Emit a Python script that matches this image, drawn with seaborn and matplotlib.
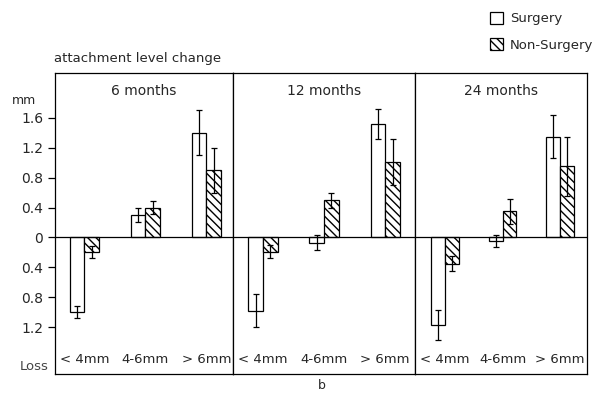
import matplotlib

matplotlib.use("Agg")
import matplotlib.pyplot as plt
from matplotlib.patches import Patch
from matplotlib.ticker import FuncFormatter
import numpy as np
import pandas as pd
import seaborn as sns

categories = ["< 4mm", "4-6mm", "> 6mm"]
periods = ["6 months", "12 months", "24 months"]
groups = ["Surgery", "Non-Surgery"]

surgery_6 = [-1.00, 0.30, 1.40]
surgery_6_err = [0.08, 0.09, 0.30]
nonsurgery_6 = [-0.20, 0.40, 0.90]
nonsurgery_6_err = [0.08, 0.09, 0.30]

surgery_12 = [-0.98, -0.07, 1.52]
surgery_12_err = [0.22, 0.10, 0.20]
nonsurgery_12 = [-0.19, 0.50, 1.01]
nonsurgery_12_err = [0.09, 0.10, 0.31]

surgery_24 = [-1.17, -0.05, 1.35]
surgery_24_err = [0.20, 0.08, 0.29]
nonsurgery_24 = [-0.35, 0.35, 0.95]
nonsurgery_24_err = [0.10, 0.17, 0.40]

values = {
    "6 months": (surgery_6, surgery_6_err, nonsurgery_6, nonsurgery_6_err),
    "12 months": (surgery_12, surgery_12_err, nonsurgery_12, nonsurgery_12_err),
    "24 months": (surgery_24, surgery_24_err, nonsurgery_24, nonsurgery_24_err),
}

rows = []
for period, (s, se, n, ne) in values.items():
    for i, cat in enumerate(categories):
        rows.append({"period": period, "depth": cat, "group": "Surgery", "change": s[i], "err": se[i]})
        rows.append({"period": period, "depth": cat, "group": "Non-Surgery", "change": n[i], "err": ne[i]})
df = pd.DataFrame(rows)

sns.set_theme(style="white")
plt.rcParams["font.family"] = ["DejaVu Sans"]
plt.rcParams["hatch.linewidth"] = 1.0

fig = plt.figure(figsize=(5.98, 3.93), dpi=100)
gs = fig.add_gridspec(1, 3, left=0.092, right=0.982, top=0.814, bottom=0.048, wspace=0,
                      width_ratios=[178, 182, 172])
axes = [fig.add_subplot(gs[0, k]) for k in range(3)]
xlims = [(-0.48, 2.44), (-0.49, 2.49), (-0.52, 2.47)]

for k, (ax, period) in enumerate(zip(axes, periods)):
    sub = df[df["period"] == period]
    sns.barplot(
        data=sub,
        x="depth",
        y="change",
        hue="group",
        order=categories,
        hue_order=groups,
        palette={"Surgery": "white", "Non-Surgery": "white"},
        edgecolor="black",
        linewidth=0.9,
        width=0.48,
        errorbar=None,
        legend=False,
        ax=ax,
    )
    for bar in ax.containers[1]:
        bar.set_hatch("\\\\\\\\")
    for cont, grp in zip(ax.containers, groups):
        g = sub[sub["group"] == grp].set_index("depth").loc[categories]
        xs = [b.get_x() + b.get_width() / 2 for b in cont]
        ax.errorbar(xs, g["change"], yerr=g["err"], fmt="none", ecolor="black",
                    elinewidth=0.9, capsize=2, capthick=0.9)
    ax.axhline(0, color="black", lw=0.9)
    ax.set_xlim(*xlims[k])
    ax.set_ylim(-1.83, 2.2)
    ax.set_xlabel("")
    ax.set_ylabel("")
    ax.tick_params(axis="x", length=0, pad=-15, labelsize=9.5)
    ax.set_title(period, y=0.9, fontsize=10)
    for sp in ax.spines.values():
        sp.set_color("black")
        sp.set_linewidth(0.9)
    ax.set_yticks([-1.2, -0.8, -0.4, 0, 0.4, 0.8, 1.2, 1.6])
    if k == 0:
        ax.yaxis.set_major_formatter(FuncFormatter(lambda v, p: "0" if abs(v) < 1e-9 else f"{abs(v):.1f}"))
        ax.tick_params(axis="y", left=True, length=5, width=0.9, color="black", labelsize=10)
    else:
        ax.tick_params(axis="y", left=False, labelleft=False)

fig.text(0.09, 0.835, "attachment level change", fontsize=9.5, ha="left", va="bottom")
fig.text(0.02, 0.745, "mm", fontsize=9, ha="left", va="center")
fig.text(0.033, 0.068, "Loss", fontsize=9.5, ha="left", va="center", color="#444444")
fig.text(0.538, 0.02, "b", fontsize=9, ha="center", va="center")

handles = [Patch(facecolor="white", edgecolor="black", lw=0.9, label="Surgery"),
           Patch(facecolor="white", edgecolor="black", lw=0.9, hatch="\\\\\\\\", label="Non-Surgery")]
fig.legend(handles=handles, loc="upper left", bbox_to_anchor=(0.8, 1.0), frameon=False,
           handlelength=1.0, handleheight=1.0, handletextpad=0.5, labelspacing=1.0, fontsize=9.5)

fig.savefig("out.png", dpi=100)
